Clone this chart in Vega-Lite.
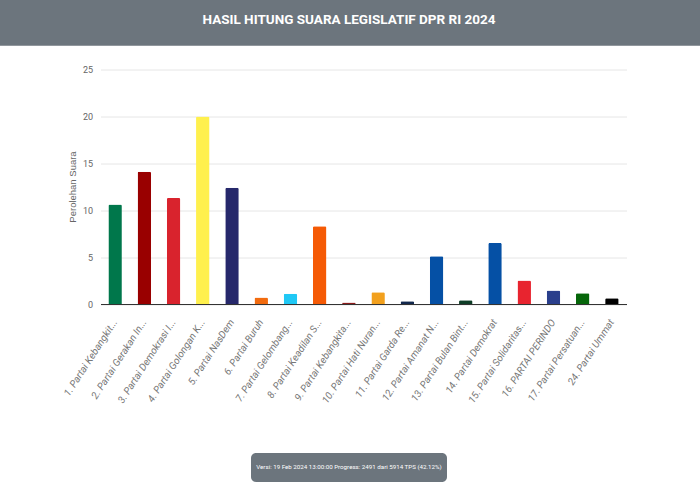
{"$schema":"https://vega.github.io/schema/vega-lite/v6.json","width":526,"height":234.5,"autosize":{"type":"none"},"padding":{"left":100.5,"top":69.5,"right":73.5,"bottom":196},"background":"#ffffff","view":{"stroke":null},"datasets":{"notes":[{"header":"HASIL HITUNG SUARA LEGISLATIF DPR RI 2024","footer":"Versi: 19 Feb 2024 13:00:00 Progress: 2491 dari 5914 TPS (42.12%)"}],"votes":[{"partai":"1. Partai Kebangkit...","suara":10.6},{"partai":"2. Partai Gerakan In...","suara":14.1},{"partai":"3. Partai Demokrasi I...","suara":11.3},{"partai":"4. Partai Golongan K...","suara":20},{"partai":"5. Partai NasDem","suara":12.4},{"partai":"6. Partai Buruh","suara":0.7},{"partai":"7. Partai Gelombang...","suara":1.1},{"partai":"8. Partai Keadilan S...","suara":8.3},{"partai":"9. Partai Kebangkita...","suara":0.15},{"partai":"10. Partai Hati Nuran...","suara":1.25},{"partai":"11. Partai Garda Re...","suara":0.3},{"partai":"12. Partai Amanat N...","suara":5.1},{"partai":"13. Partai Bulan Bint...","suara":0.4},{"partai":"14. Partai Demokrat","suara":6.5},{"partai":"15. Partai Solidaritas...","suara":2.5},{"partai":"16. PARTAI PERINDO","suara":1.45},{"partai":"17. Partai Persatuan...","suara":1.15},{"partai":"24. Partai Ummat","suara":0.6}]},"resolve":{"scale":{"x":"independent"}},"layer":[{"data":{"name":"votes"},"mark":{"type":"bar","width":13.5,"cornerRadiusTopLeft":1.5,"cornerRadiusTopRight":1.5},"encoding":{"x":{"field":"partai","type":"nominal","sort":null,"title":null,"scale":{"paddingInner":0,"paddingOuter":0},"axis":{"labelAngle":-57,"labelAlign":"right","labelBaseline":"middle","labelFont":"Roboto","labelFontStyle":"italic","labelFontSize":10,"labelColor":"#777777","labelPadding":16,"labelLimit":0,"ticks":false,"domainColor":"#333333","domainWidth":1,"grid":false,"labelOverlap":false}},"y":{"field":"suara","type":"quantitative","title":"Perolehan Suara","scale":{"domain":[0,25],"nice":false,"zero":false},"axis":{"values":[0,5,10,15,20,25],"ticks":false,"domain":false,"grid":true,"gridColor":"#e6e6e6","labelFont":"Roboto","labelFontSize":9,"labelColor":"#666666","labelPadding":8,"titleFont":"Liberation Sans","titleFontSize":9.5,"titleFontWeight":"normal","titleColor":"#666666","titleX":-23,"titleY":117}},"color":{"field":"partai","type":"nominal","sort":null,"legend":null,"scale":{"range":["#00774b","#990000","#d9232d","#fff04d","#26286b","#f26b0f","#1fc8f5","#f55a05","#8c1c1c","#f2a01d","#12284d","#0550a5","#0d3d26","#0550a5","#e8242f","#2a3f8c","#06660a","#000000"]}}}},{"data":{"name":"notes"},"mark":{"type":"rect","fill":"#6c757d"},"encoding":{"x":{"datum":0,"type":"quantitative","scale":{"domain":[0,700],"range":[-100.5,599.5]},"axis":null},"x2":{"datum":700},"y":{"datum":27.52,"type":"quantitative"},"y2":{"datum":32.5}}},{"data":{"name":"notes"},"mark":{"type":"text","font":"Roboto","fontWeight":"bold","fontSize":13.5,"fill":"#ffffff","align":"center","baseline":"middle"},"encoding":{"x":{"datum":349,"type":"quantitative","scale":{"domain":[0,700],"range":[-100.5,599.5]},"axis":null},"y":{"datum":30.3,"type":"quantitative"},"text":{"field":"header"}}},{"data":{"name":"notes"},"mark":{"type":"rect","fill":"#6c757d","cornerRadius":5},"encoding":{"x":{"datum":251,"type":"quantitative","scale":{"domain":[0,700],"range":[-100.5,599.5]},"axis":null},"x2":{"datum":447},"y":{"datum":-15.88,"type":"quantitative"},"y2":{"datum":-18.98}}},{"data":{"name":"notes"},"mark":{"type":"text","font":"Roboto","fontSize":6.2,"fill":"#ffffff","align":"center","baseline":"middle"},"encoding":{"x":{"datum":349,"type":"quantitative","scale":{"domain":[0,700],"range":[-100.5,599.5]},"axis":null},"y":{"datum":-17.43,"type":"quantitative"},"text":{"field":"footer"}}}]}
